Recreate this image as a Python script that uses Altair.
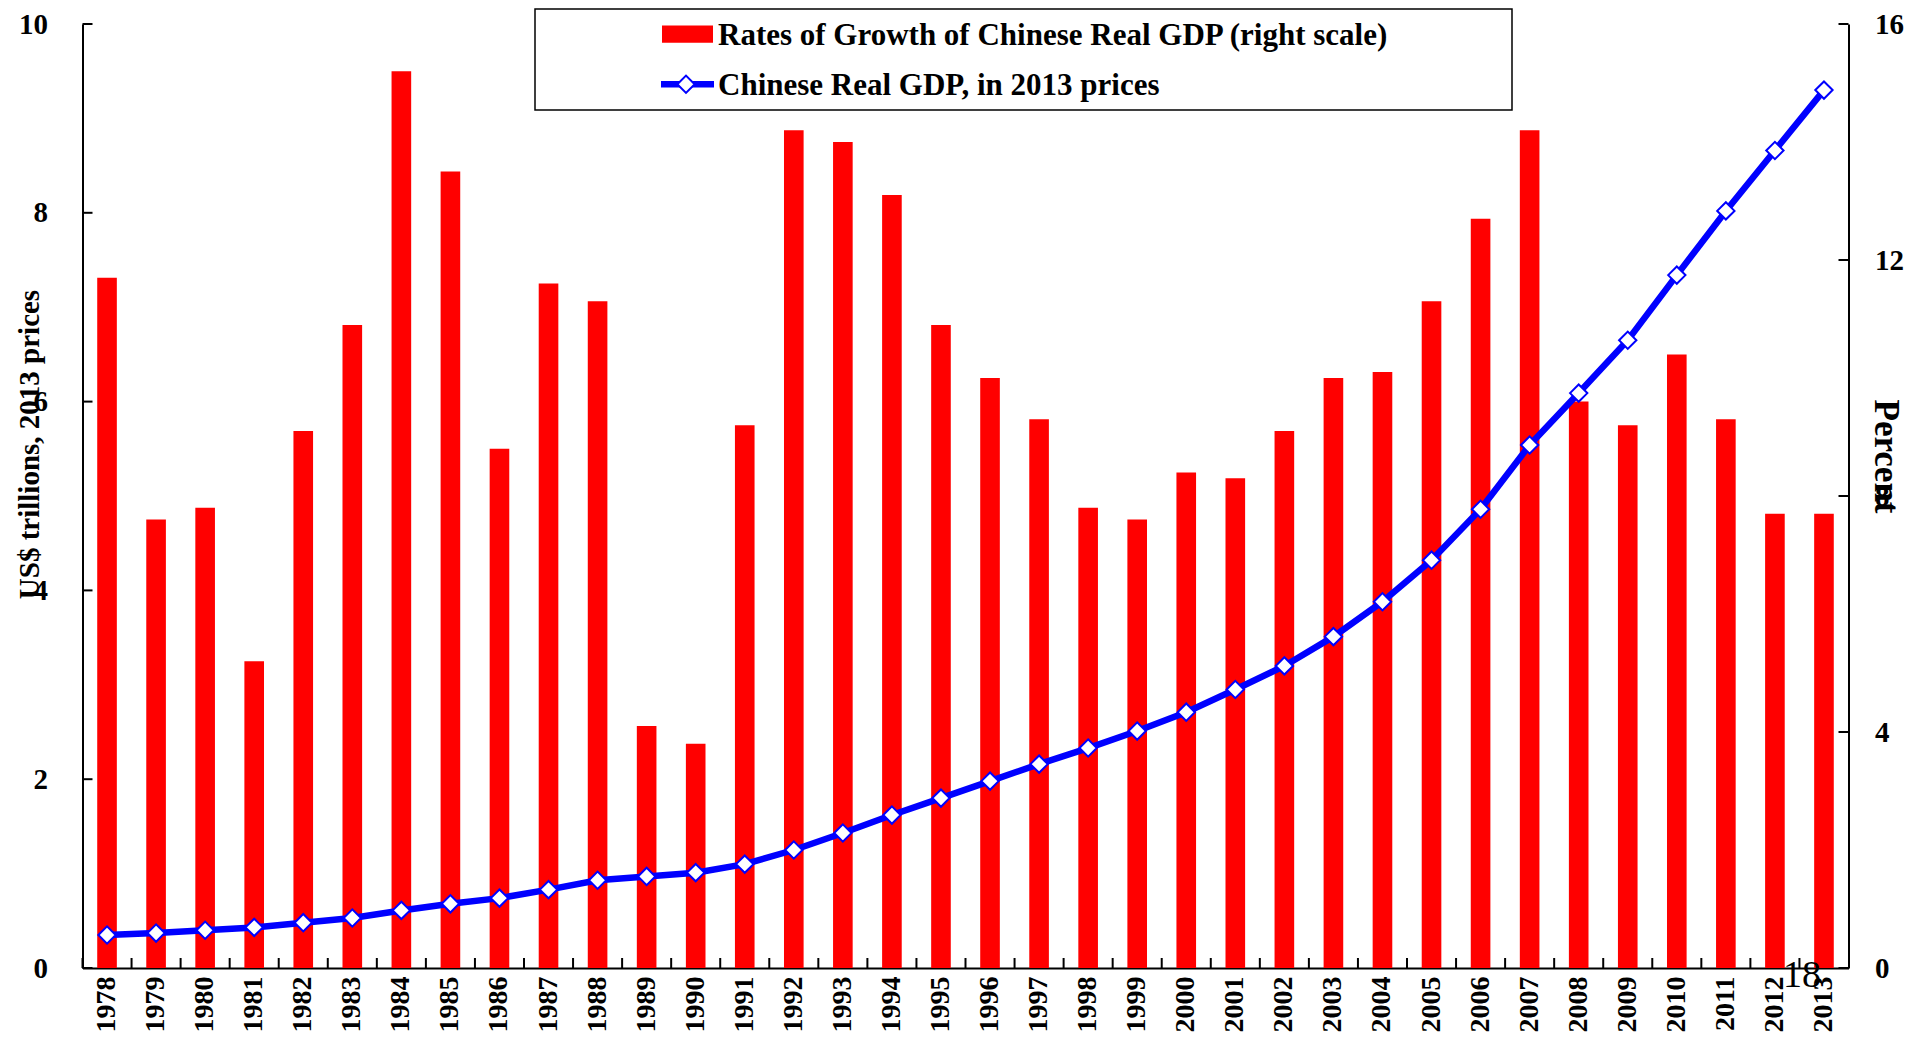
import altair as alt
import pandas as pd

# ---------------- data ----------------
years = ["1978", "1979", "1980", "1981", "1982", "1983", "1984", "1985", "1986",
         "1987", "1988", "1989", "1990", "1991", "1992", "1993", "1994", "1995",
         "1996", "1997", "1998", "1999", "2000", "2001", "2002", "2003", "2004",
         "2005", "2006", "2007", "2008", "2009", "2010", "2011", "2012", "2013"]
growth = [11.7, 7.6, 7.8, 5.2, 9.1, 10.9, 15.2, 13.5, 8.8, 11.6, 11.3, 4.1,
          3.8, 9.2, 14.2, 14.0, 13.1, 10.9, 10.0, 9.3, 7.8, 7.6, 8.4, 8.3,
          9.1, 10.0, 10.1, 11.3, 12.7, 14.2, 9.6, 9.2, 10.4, 9.3, 7.7, 7.7]
gdp = [0.35, 0.37, 0.40, 0.43, 0.48, 0.53, 0.61, 0.68, 0.74, 0.83, 0.93, 0.97,
       1.01, 1.10, 1.25, 1.43, 1.62, 1.80, 1.98, 2.16, 2.33, 2.51, 2.71, 2.95,
       3.20, 3.51, 3.88, 4.32, 4.86, 5.54, 6.09, 6.65, 7.34, 8.02, 8.66, 9.30]
left_ticks = [0, 2, 4, 6, 8, 10]
right_ticks = [0, 4, 8, 12, 16]
legend_labels = ["Rates of Growth of Chinese Real GDP (right scale)",
                 "Chinese Real GDP, in 2013 prices"]
left_title = "US$ trillions, 2013 prices"
right_title = "Percent"
page_number = "18"

# ---------------- styling ----------------
W, H = 1766, 944
STEP = W / len(years)
FONT = "Liberation Serif"
RED = "#FF0000"
BLUE = "#0000FF"

df = pd.DataFrame({"year": years, "growth": growth, "gdp": gdp})

x_axis = alt.Axis(title=None, labelAngle=270, labelAlign="right", labelBaseline="middle",
                  labelFont=FONT, labelFontWeight="bold", labelFontSize=28,
                  labelColor="black", labelPadding=8, ticks=False, tickSize=0,
                  domainColor="black", domainWidth=2, labelOverlap=False, grid=False)
x_scale = alt.Scale(paddingInner=0.6, paddingOuter=0.3)


def x_enc():
    return alt.X("year:O", sort=years, axis=x_axis, scale=x_scale)


right_axis = alt.Axis(orient="right", values=right_ticks, title=right_title,
                      grid=False, ticks=False, tickSize=0, domainColor="black",
                      domainWidth=2, labelFont=FONT, labelFontWeight="bold",
                      labelFontSize=29, labelColor="black", labelPadding=26,
                      labelAlign="left",
                      titleFont=FONT, titleFontSize=35, titleFontWeight="bold",
                      titleColor="black", titleAngle=90, titleAlign="center",
                      titleBaseline="alphabetic", titleX=26, titleY=432)
right_scale = alt.Scale(domain=[0, 16], nice=False, zero=True)

left_axis = alt.Axis(orient="left", values=left_ticks, title=left_title,
                     grid=False, ticks=False, tickSize=0, domainColor="black",
                     domainWidth=2, labelFont=FONT, labelFontWeight="bold",
                     labelFontSize=29, labelColor="black", labelPadding=35,
                     labelAlign="right",
                     titleFont=FONT, titleFontSize=29, titleFontWeight="bold",
                     titleColor="black", titleAngle=270, titleAlign="center",
                     titleBaseline="alphabetic", titleX=-44, titleY=420)
left_scale = alt.Scale(domain=[0, 10], nice=False, zero=True)


def y_right(field):
    return alt.Y(field, axis=right_axis, scale=right_scale)


def y_left(field):
    return alt.Y(field, axis=left_axis, scale=left_scale)


# bars on right scale, with inward ticks
bars = alt.Chart(df).mark_bar(color=RED).encode(x=x_enc(), y=y_right("growth:Q"))
right_tick_rules = alt.Chart(pd.DataFrame({"growth": right_ticks})).mark_rule(
    color="black", strokeWidth=2).encode(
    y=y_right("growth:Q"), x=alt.value(W - 10), x2=alt.value(W))
right_group = alt.layer(bars, right_tick_rules)

# line on left scale, with inward ticks
line = alt.Chart(df).mark_line(color=BLUE, strokeWidth=6.5).encode(
    x=x_enc(), y=y_left("gdp:Q"))
points = alt.Chart(df).mark_point(shape="diamond", size=300, filled=True, fill="white",
                                  stroke=BLUE, strokeWidth=2, opacity=1).encode(
    x=x_enc(), y=y_left("gdp:Q"))
left_tick_rules = alt.Chart(pd.DataFrame({"gdp": left_ticks})).mark_rule(
    color="black", strokeWidth=2).encode(
    y=y_left("gdp:Q"), x=alt.value(0), x2=alt.value(10))
x_tick_rules = alt.Chart(pd.DataFrame({"year": years})).mark_rule(
    color="black", strokeWidth=2, xOffset=-STEP / 2).encode(
    x=x_enc(), y=alt.value(H - 10), y2=alt.value(H))
left_group = alt.layer(line, points, left_tick_rules, x_tick_rules)

# legend box drawn as annotation
one = pd.DataFrame({"k": [0]})
box = alt.Chart(one).mark_rect(fill="white", stroke="black", strokeWidth=1.5).encode(
    x=alt.value(452.5), x2=alt.value(1429.5), y=alt.value(-15), y2=alt.value(86))
sym_bar = alt.Chart(one).mark_rect(color=RED).encode(
    x=alt.value(579.5), x2=alt.value(630.5), y=alt.value(1.6), y2=alt.value(18.7))
sym_line = alt.Chart(one).mark_rule(color=BLUE, strokeWidth=6.5).encode(
    x=alt.value(578.5), x2=alt.value(631.5), y=alt.value(60.3))
sym_pt = alt.Chart(one).mark_point(shape="diamond", size=300, filled=True, fill="white",
                                   stroke=BLUE, strokeWidth=2, opacity=1).encode(
    x=alt.value(603.5), y=alt.value(60.3))
lab1 = alt.Chart(pd.DataFrame({"t": [legend_labels[0]]})).mark_text(
    font=FONT, fontSize=31, fontWeight="bold", align="left", baseline="alphabetic",
    color="black").encode(text="t:N", x=alt.value(635.5), y=alt.value(21))
lab2 = alt.Chart(pd.DataFrame({"t": [legend_labels[1]]})).mark_text(
    font=FONT, fontSize=31, fontWeight="bold", align="left", baseline="alphabetic",
    color="black").encode(text="t:N", x=alt.value(635.5), y=alt.value(71))
page = alt.Chart(pd.DataFrame({"t": [page_number]})).mark_text(
    font=FONT, fontSize=38, align="center", baseline="alphabetic",
    color="black").encode(text="t:N", x=alt.value(1719.5), y=alt.value(963))

chart = alt.layer(right_group, left_group, box, sym_bar, sym_line, sym_pt, lab1, lab2, page
                  ).resolve_scale(y="independent").properties(
    width=W, height=H,
    autosize=alt.AutoSizeParams(type="none"),
    padding={"left": 74.5, "top": 16, "right": 58, "bottom": 64},
).configure_view(strokeWidth=0)

chart.save("out.html", embed_options={"renderer": "svg", "actions": False})
